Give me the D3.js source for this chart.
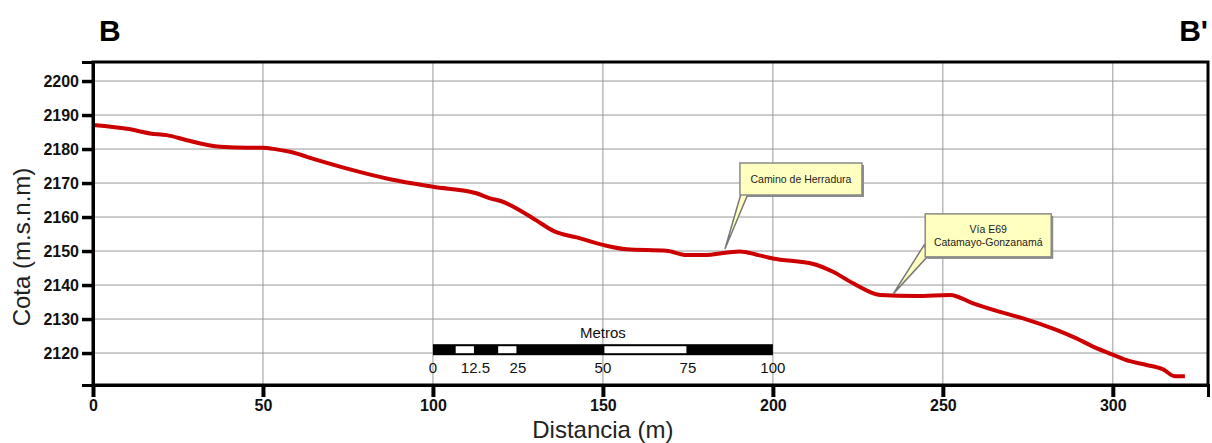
<!DOCTYPE html>
<html>
<head>
<meta charset="utf-8">
<script src="https://cdn.jsdelivr.net/npm/d3@7"></script>
<style>
  body { margin: 0; background: #fff; }
  svg { display: block; font-family: Arial, "Liberation Sans", sans-serif; }
  .grid line { stroke: #999; stroke-width: 1; }
  .axis path, .axis line { stroke: #000; }
  .axis text { font-weight: bold; font-size: 16px; fill: #111; }
</style>
</head>
<body>
<script>
// Profile B - B' (distance in m, elevation in m.s.n.m)
var distance = [0, 11, 16.8, 21.7, 27.6, 37.4, 46, 50, 54, 57.9, 65.8, 75.6, 87.4, 100,
  112.8, 116.8, 119.7, 129.5, 135.9, 142.3, 150, 157, 168.7, 174.6, 179.5, 190.3, 195.7,
  200, 211.9, 217.7, 223.6, 231.5, 242.3, 252.1, 258.9, 266.8, 273.6, 283.4, 289.3,
  294.2, 300.3, 305, 309.9, 314.8, 318.2, 321.2];
var elevation = [2187.1, 2185.8, 2184.6, 2184.1, 2182.6, 2180.7, 2180.4, 2180.4, 2179.9,
  2179.2, 2176.8, 2174.0, 2171.1, 2168.9, 2167.0, 2165.5, 2164.8, 2159.6, 2155.7, 2154.0,
  2151.8, 2150.5, 2150.1, 2148.8, 2148.8, 2149.9, 2148.8, 2147.8, 2146.2, 2143.9, 2140.5,
  2137.1, 2136.8, 2137.1, 2134.6, 2132.1, 2130.2, 2126.8, 2124.3, 2121.9, 2119.4, 2117.6,
  2116.5, 2115.2, 2113.2, 2113.2];

var xTicks = [0, 50, 100, 150, 200, 250, 300];
var yTicks = [2120, 2130, 2140, 2150, 2160, 2170, 2180, 2190, 2200];

// graphic scale bar (metros), starts at distance 100
var scaleOrigin = 100;
var scaleLabels = [0, 12.5, 25, 50, 75, 100];
var scaleWhite = [[6.25, 12.5], [18.75, 25], [50, 75]];

// callouts
var noteText = [["Camino de Herradura"], ["Vía E69", "Catamayo-Gonzanamá"]];
var noteX = [185.9, 235.4];
var noteY = [2150.6, 2137.4];

// Set the dimensions of the canvas / graph
var margin = {top: 62, right: 4, bottom: 58, left: 93},
  width = 1212 - margin.left - margin.right,
  height = 443 - margin.top - margin.bottom;

var x = d3.scaleLinear().domain([0, 328]).range([0, width]);
var y = d3.scaleLinear().domain([2110.6, 2205.6]).range([height, 0]);

var root = d3.select("body").append("svg")
  .attr("width", 1212)
  .attr("height", 443);

var svg = root.append("g")
  .attr("transform", "translate(" + margin.left + "," + margin.top + ")");

// Grid
svg.append("g").attr("class", "grid")
  .selectAll("line.h").data(yTicks).enter().append("line")
  .attr("x1", 0).attr("x2", width)
  .attr("y1", function(d) { return y(d); })
  .attr("y2", function(d) { return y(d); });
svg.append("g").attr("class", "grid")
  .selectAll("line.v").data(xTicks.slice(1)).enter().append("line")
  .attr("y1", 0).attr("y2", height)
  .attr("x1", function(d) { return x(d); })
  .attr("x2", function(d) { return x(d); });

// Scale bar
var sb = svg.append("g").attr("class", "scalebar");
var sbTop = y(2122.6), sbH = 11;
sb.append("rect")
  .attr("x", x(scaleOrigin)).attr("y", sbTop)
  .attr("width", x(scaleOrigin + 100) - x(scaleOrigin)).attr("height", sbH)
  .attr("fill", "#000");
sb.selectAll("rect.w").data(scaleWhite).enter().append("rect")
  .attr("x", function(d) { return x(scaleOrigin + d[0]) + 1.5; })
  .attr("y", sbTop + 2)
  .attr("width", function(d) { return x(scaleOrigin + d[1]) - x(scaleOrigin + d[0]) - 3; })
  .attr("height", sbH - 4)
  .attr("fill", "#fff");
sb.selectAll("text.l").data(scaleLabels).enter().append("text")
  .attr("x", function(d) { return x(scaleOrigin + d); })
  .attr("y", sbTop + 29)
  .attr("text-anchor", "middle")
  .attr("font-size", 15)
  .attr("fill", "#111")
  .text(function(d) { return d; });
sb.append("text")
  .attr("x", x(scaleOrigin + 50)).attr("y", sbTop - 6)
  .attr("text-anchor", "middle")
  .attr("font-size", 15)
  .attr("fill", "#111")
  .text("Metros");

// Profile line
var valueline = d3.line()
  .x(function(d, i) { return x(distance[i]); })
  .y(function(d, i) { return y(elevation[i]); })
  .curve(d3.curveMonotoneX);
svg.append("path")
  .datum(distance)
  .attr("d", valueline)
  .attr("fill", "none")
  .attr("stroke", "#cc0000")
  .attr("stroke-width", 4)
  .attr("stroke-linejoin", "round");

// Callouts
var boxW = [122, 126], boxH = [32, 43], boxDx = [15, 32], boxDy = [-86, -80];
noteText.forEach(function(lines, i) {
  var px = x(noteX[i]), py = y(noteY[i]);
  var bx = px + boxDx[i], by = py + boxDy[i];
  var g = svg.append("g");
  var wedge;
  if (i === 0) {
    wedge = [[px, py], [bx + 1, by + boxH[i] - 1], [bx + 8, by + boxH[i] - 1]];
  } else {
    wedge = [[px, py], [bx - 1, by + boxH[i] - 12], [bx + 3, by + boxH[i] - 1]];
  }
  g.append("rect")
    .attr("x", bx + 2).attr("y", by + 2)
    .attr("width", boxW[i]).attr("height", boxH[i])
    .attr("fill", "#8a8a8a");
  g.append("polygon")
    .attr("points", wedge.map(function(p) { return p.join(","); }).join(" "))
    .attr("fill", "#ffffc0")
    .attr("stroke", "#777")
    .attr("stroke-width", 1.5);
  g.append("rect")
    .attr("x", bx).attr("y", by)
    .attr("width", boxW[i]).attr("height", boxH[i])
    .attr("fill", "#ffffc0")
    .attr("stroke", "#8a8a8a")
    .attr("stroke-width", 1.5);
  lines.forEach(function(t, k) {
    g.append("text")
      .attr("x", bx + boxW[i] / 2)
      .attr("y", by + boxH[i] / 2 + 4 + (k - (lines.length - 1) / 2) * 13)
      .attr("text-anchor", "middle")
      .attr("font-size", 10.5)
      .attr("fill", "#222")
      .text(t);
  });
});

// Frame
svg.append("rect")
  .attr("x", 0).attr("y", 0)
  .attr("width", width).attr("height", height)
  .attr("fill", "none")
  .attr("stroke", "#000")
  .attr("stroke-width", 3);

// Axes
var xAxis = d3.axisBottom(x).tickValues(xTicks).tickSize(12).tickPadding(3)
  .tickFormat(d3.format("d"));
var yAxis = d3.axisLeft(y).tickValues(yTicks).tickSize(11).tickPadding(3)
  .tickFormat(d3.format("d"));

svg.append("g")
  .attr("class", "x axis")
  .attr("transform", "translate(0," + height + ")")
  .call(xAxis)
  .call(function(g) { g.select(".domain").attr("stroke-width", 3); })
  .call(function(g) { g.selectAll(".tick line").attr("stroke-width", 4); });

svg.append("g")
  .attr("class", "y axis")
  .call(yAxis)
  .call(function(g) { g.select(".domain").attr("stroke-width", 3); })
  .call(function(g) { g.selectAll(".tick line").attr("stroke-width", 3.5); });

// Titles
root.append("text")
  .attr("x", margin.left + x(150)).attr("y", 438)
  .attr("text-anchor", "middle")
  .attr("font-size", 24)
  .attr("fill", "#222")
  .text("Distancia (m)");
root.append("text")
  .attr("transform", "translate(30," + 247 + ") rotate(-90)")
  .attr("text-anchor", "middle")
  .attr("font-size", 24)
  .attr("fill", "#222")
  .text("Cota (m.s.n.m)");
root.append("text")
  .attr("x", 99).attr("y", 41)
  .attr("font-size", 30).attr("font-weight", "bold")
  .text("B");
root.append("text")
  .attr("x", 1208).attr("y", 41)
  .attr("text-anchor", "end")
  .attr("font-size", 30).attr("font-weight", "bold")
  .text("B'");
</script>
</body>
</html>
